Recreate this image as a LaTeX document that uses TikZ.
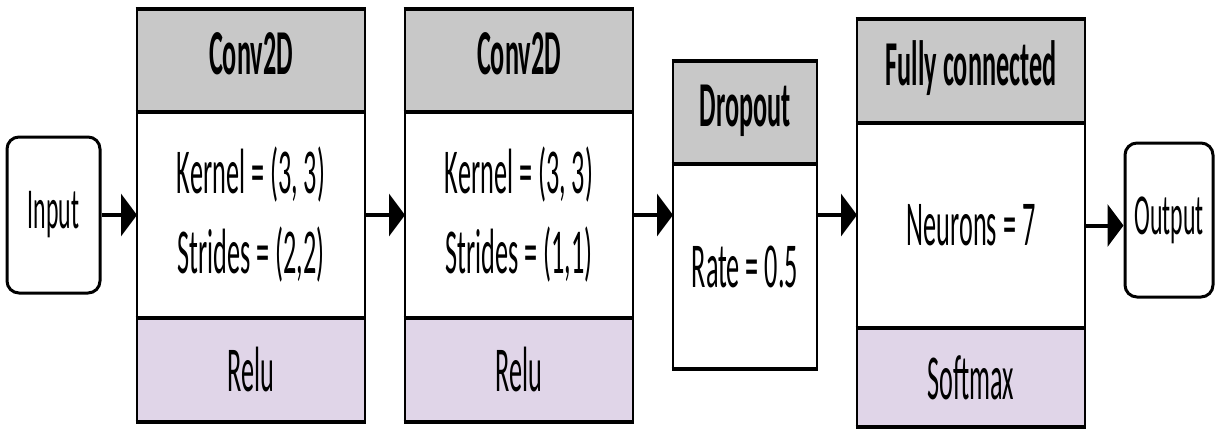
\documentclass[tikz,border=0pt]{standalone}
\usepackage{fontspec}
\newfontfamily\cf{Carlito}[FakeStretch=0.41]
\usetikzlibrary{arrows.meta,calc}
\definecolor{hdr}{RGB}{200,200,200}
\definecolor{act}{RGB}{224,213,232}
\begin{document}
\begin{tikzpicture}[x=0.5pt,y=-0.5pt,
  blk/.style={rectangle, inner sep=0pt, outer sep=0pt, align=center,
    font=\cf\fontsize{32}{40}\selectfont},
  hd/.style={blk, fill=hdr, text height=21pt, text depth=7pt,
    font=\cf\bfseries\fontsize{32}{40}\selectfont},
  bd/.style={blk, fill=white},
  ft/.style={blk, fill=act},
  hl/.style={line width=2.3pt, shorten <=-0.65pt, shorten >=-0.65pt},
  vl/.style={line width=1.3pt},
  term/.style={draw, rounded corners=6pt, line width=1.5pt, inner sep=0pt,
    font=\cf\fontsize{29}{35}\selectfont},
  arr/.style={line width=2pt, -{Triangle[length=8pt,width=21pt]}}]
\useasboundingbox (0,0) rectangle (1215,430);

% Input / Output
\node[term, minimum width=46.5pt, minimum height=78pt] (in) at (53.5,215) {Input};
\node[term, minimum width=44pt, minimum height=77pt] (out) at (1169,220) {Output};

% Conv2D 1
\node[hd, minimum width=114pt, minimum height=51.5pt] (c1h) at (251,60.5) {Conv2D};
\node[bd, minimum width=114pt, minimum height=103pt] (c1b) at (251,215) {Kernel = (3, 3)\\Strides = (2,2)};
\node[ft, minimum width=114pt, minimum height=52pt] (c1f) at (251,370) {Relu};

% Conv2D 2
\node[hd, minimum width=114pt, minimum height=51.5pt] (c2h) at (519,60.5) {Conv2D};
\node[bd, minimum width=114pt, minimum height=103pt] (c2b) at (519,215) {Kernel = (3, 3)\\Strides = (1,1)};
\node[ft, minimum width=114pt, minimum height=52pt] (c2f) at (519,370) {Relu};

% Dropout
\node[hd, minimum width=72pt, minimum height=51.5pt] (doh) at (745,112.5) {Dropout};
\node[bd, minimum width=72pt, minimum height=102.5pt] (dob) at (745,266.5) {Rate = 0.5};

% Fully connected
\node[hd, minimum width=114pt, minimum height=52pt] (fch) at (971,71) {Fully connected};
\node[bd, minimum width=114pt, minimum height=102.5pt] (fcb) at (971,225.5) {Neurons = 7};
\node[ft, minimum width=114pt, minimum height=49.5pt] (fcf) at (971,377.5) {Softmax};

% frames
\foreach \h/\b/\f in {c1h/c1b/c1f, c2h/c2b/c2f, fch/fcb/fcf}{
  \draw[vl] (\h.north west) -- (\f.south west);
  \draw[vl] (\h.north east) -- (\f.south east);
  \draw[hl] (\h.north west) -- (\h.north east);
  \draw[hl] (\b.north west) -- (\b.north east);
  \draw[hl] (\f.north west) -- (\f.north east);
  \draw[hl] (\f.south west) -- (\f.south east);
}
\draw[vl] (doh.north west) -- (dob.south west);
\draw[vl] (doh.north east) -- (dob.south east);
\draw[hl] (doh.north west) -- (doh.north east);
\draw[hl] (dob.north west) -- (dob.north east);
\draw[hl] (dob.south west) -- (dob.south east);

% arrows
\draw[arr] (in.east) -- (c1b.west);
\draw[arr] (c1b.east) -- (c2b.west);
\draw[arr] (c2b.east) -- (c2b.east -| dob.west);
\draw[arr] (dob.east |- c2b.east) -- (fcb.west |- c2b.east);
\draw[arr] (fcb.east) -- (fcb.east -| out.west);
\end{tikzpicture}
\end{document}
